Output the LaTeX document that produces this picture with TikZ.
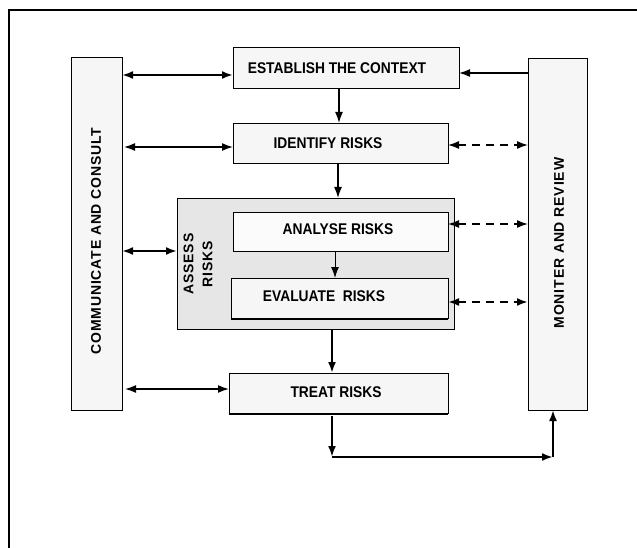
\documentclass[tikz,border=0pt]{standalone}
\usepackage{fontspec}
\setmainfont{Liberation Sans}
\usetikzlibrary{arrows.meta}
\definecolor{boxfill}{HTML}{F6F6F6}
\definecolor{assfill}{HTML}{E6E6E6}
\begin{document}
\begin{tikzpicture}[x=1pt,y=-1pt,
  >={Latex[length=11pt,width=8pt]},
  box/.style={draw=black, line width=0.9pt, fill=boxfill, inner sep=0pt, outer sep=0pt},
  lbl/.style={font=\fontsize{15.5}{17}\selectfont\bfseries\addfontfeature{FakeStretch=0.89}, inner sep=0pt},
  vlbl/.style={font=\fontsize{14}{19}\selectfont\bfseries\addfontfeature{LetterSpace=6}, rotate=90, inner sep=0pt, align=center},
  conn/.style={line width=1.5pt},
  heavy/.style={line width=2.5pt},
  thinconn/.style={line width=1pt},
  dashconn/.style={line width=1.5pt, dash pattern=on 8pt off 6pt},
  heavydash/.style={line width=2.5pt, dash pattern=on 8pt off 6pt},
  shadowline/.style={line width=1.8pt}
]
\useasboundingbox (0,0) rectangle (637,548);
% frame
\draw[line width=2.5pt] (9,548) -- (9,10) -- (637,10);

% side boxes
\node[box, minimum width=51pt, minimum height=353pt] (com) at (96.5,233.5) {};
\node[vlbl] (comT) at (96,241) {COMMUNICATE AND CONSULT};
\node[box, minimum width=59pt, minimum height=352pt] (mon) at (557.5,234) {};
\node[vlbl] (monT) at (559,243) {MONITER AND REVIEW};

% process boxes
\node[box, minimum width=226pt, minimum height=41pt] (est) at (346,67.5) {};
\node[lbl] (estT) at (337,68) {ESTABLISH THE CONTEXT};
\node[box, minimum width=215pt, minimum height=40pt] (ide) at (340.5,143) {};
\node[lbl] (ideT) at (328,143) {IDENTIFY RISKS};
\node[box, fill=assfill, minimum width=277pt, minimum height=131pt] (ass) at (315.5,263.5) {};
\node[vlbl] (assT) at (198,264) {ASSESS\\RISKS};
\node[box, fill=white!60!boxfill, minimum width=215pt, minimum height=39pt] (ana) at (340.5,231.5) {};
\node[lbl] (anaT) at (338,229) {ANALYSE RISKS};
\node[box, minimum width=217pt, minimum height=40pt] (eva) at (339.5,298) {};
\node[lbl] (evaT) at (324,296) {EVALUATE\ \ RISKS};
\node[box, minimum width=219pt, minimum height=40pt] (tre) at (338.5,393) {};
\node[lbl] (treT) at (336,392) {TREAT RISKS};

\foreach \n in {est,ide,eva,tre}
  \draw[shadowline] ([yshift=-0.6pt]\n.south west) -- ([yshift=-0.6pt]\n.south east);

% connectors to communicate and consult
\draw[heavy,<->] (com.east |- 0,75) -- (est.west |- 0,75);
\draw[conn,<->] ([xshift=2pt]com.east |- 0,147) -- (ide.west |- 0,147);
\draw[heavy,<->] (com.east |- 0,251) -- (ass.west |- 0,251);
\draw[conn,<->] ([xshift=3pt]com.east |- 0,389) -- (tre.west |- 0,389);

% connectors to monitor and review
\draw[conn,->] (mon.west |- 0,73) -- (est.east |- 0,73);
\draw[dashconn,<->] (ide.east |- 0,145) -- (mon.west |- 0,145);
\draw[dashconn,<->] (ana.east |- 0,224) -- (mon.west |- 0,224);
\draw[heavydash,<->] (eva.east |- 0,302) -- (mon.west |- 0,302);

% vertical flow
\draw[conn,->] (339,0 |- est.south) -- (339,0 |- ide.north);
\draw[conn,->] (338,0 |- ide.south) -- (338,0 |- ass.north);
\draw[thinconn,->] (335,0 |- ana.south) -- (335,0 |- eva.north);
\draw[heavy,->] (332,0 |- ass.south) -- (332,0 |- tre.north);

% feedback loop
\coordinate (c1) at (332,457);
\coordinate (c2) at (553,457);
\draw[heavy,->,shorten <=3pt] (332,0 |- tre.south) -- (c1);
\draw[line width=2pt,->] (c1) -- (c2);
\draw[line width=2pt,->] (c2) -- (c2 |- mon.south);
\end{tikzpicture}
\end{document}
